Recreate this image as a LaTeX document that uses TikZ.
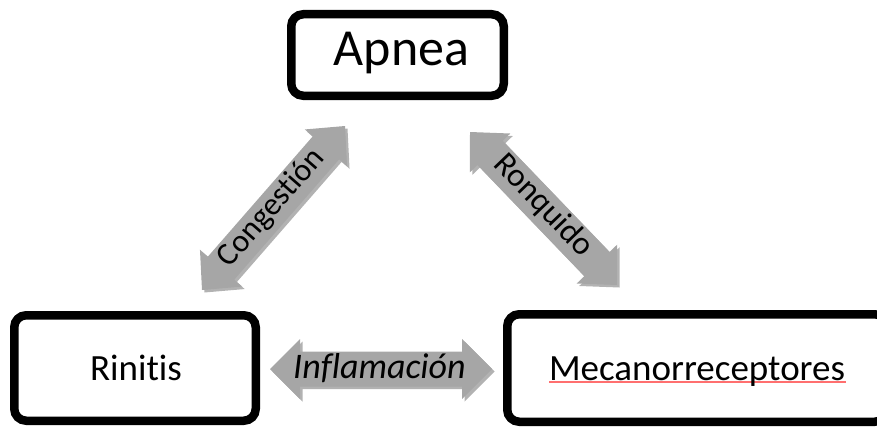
\documentclass[tikz,border=0pt]{standalone}
\usepackage{fontspec}
\setmainfont{Carlito}[Ligatures={NoCommon}, RawFeature={-clig;-liga}]
\usetikzlibrary{calc,shadows}
\definecolor{arrgray}{HTML}{A6A6A6}
\definecolor{spellred}{HTML}{FF6F6F}
\tikzset{
  box/.style={draw=black, line width=8.5pt, rounded corners=12pt, fill=white,
    inner sep=0pt, drop shadow={shadow xshift=3pt, shadow yshift=-3pt, opacity=0.22, fill=black}},
  arr/.style={fill=arrgray, drop shadow={shadow xshift=2.5pt, shadow yshift=-2.5pt, opacity=0.3, fill=black}},
  lbl/.style={inner sep=0pt, text=black},
  spell/.style={draw=spellred, line width=1.1pt},
}
\newcommand\dblarrow[5]{% #1 tip A, #2 tip B, #3 half shaft, #4 half head, #5 head length
  \coordinate (h1) at ($(#1)!#5!(#2)$);
  \coordinate (h2) at ($(#2)!#5!(#1)$);
  \fill[arr] (#1) -- ($(h1)!#4!90:(#2)$) -- ($(h1)!#3!90:(#2)$)
    -- ($(h2)!#3!-90:(#1)$) -- ($(h2)!#4!-90:(#1)$) -- (#2)
    -- ($(h2)!#4!90:(#1)$) -- ($(h2)!#3!90:(#1)$)
    -- ($(h1)!#3!-90:(#2)$) -- ($(h1)!#4!-90:(#2)$) -- cycle;
}
\begin{document}
\begin{tikzpicture}[x=1pt,y=-1pt]
\useasboundingbox (0,0) rectangle (877,428);
% boxes
\node[box, minimum width=212.5pt, minimum height=81.5pt] (apnea) at (397.5,55) {};
\node[box, minimum width=241.5pt, minimum height=105.5pt] (rinitis) at (135,368) {};
\node[box, minimum width=379.5pt, minimum height=107.5pt] (mecano) at (697,368) {};
\node[lbl, anchor=base, font=\fontsize{52}{60}\selectfont] (apneaT) at (401.5,66) {Apnea};
\node[lbl, anchor=base, font=\fontsize{37}{44}\selectfont] (rinitisT) at (136,380) {Rinitis};
\coordinate (ul1) at (549,382);
\coordinate (ul2) at (846,382);
\draw[spell] (ul1) -- (ul2);
\node[lbl, anchor=base, font=\fontsize{37}{44}\selectfont] (mecanoT) at (697,380) {Mecanorreceptores};
% arrow tips
\coordinate (congA) at (202,290);
\coordinate (congB) at (345,126);
\coordinate (ronqA) at (470,132);
\coordinate (ronqB) at (617,285);
\coordinate (inflA) at (270,369);
\coordinate (inflB) at (492,369);
\dblarrow{congA}{congB}{17.5pt}{28pt}{29pt}
\dblarrow{ronqA}{ronqB}{17.5pt}{28pt}{29pt}
\dblarrow{inflA}{inflB}{17.5pt}{30pt}{30pt}
\node[lbl, rotate=48.9, font=\fontsize{32}{38}\selectfont] (congT) at ($(congA)!0.5!(congB)+(-2,0)$) {Congestión};
\node[lbl, rotate=-46.1, font=\fontsize{33}{38}\selectfont] (ronqT) at ($(ronqA)!0.5!(ronqB)+(0,-3)$) {Ronquido};
\node[lbl, anchor=base, font=\fontsize{36}{42}\selectfont\itshape] (inflT) at (379.5,378) {Inflamación};
\end{tikzpicture}
\end{document}
